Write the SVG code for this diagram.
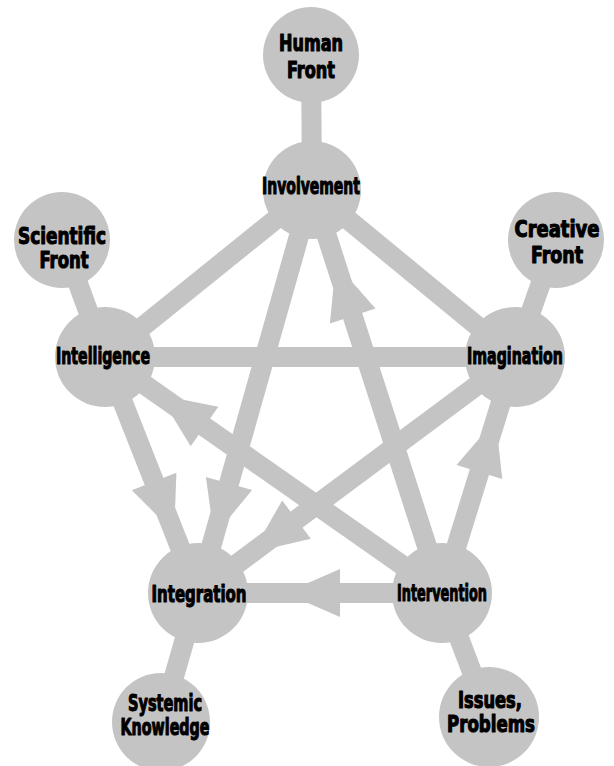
<svg xmlns="http://www.w3.org/2000/svg" width="614" height="766" viewBox="0 0 614 766">
<style>
.c{fill:#c4c4c4}
.l{stroke:#c4c4c4;stroke-width:20;fill:none}
.a{fill:#c4c4c4}
text{font-family:"DejaVu Sans Condensed","Liberation Sans Narrow","Liberation Sans",sans-serif;font-weight:bold;font-size:23px;fill:#000;stroke:#000;stroke-width:1.1;stroke-linejoin:round;text-anchor:middle}
</style>
<rect width="614" height="766" fill="#fff"/>
<g id="connectors">
<line class="l" x1="311" y1="55" x2="312" y2="190"/>
<line class="l" x1="62" y1="240" x2="105" y2="357"/>
<line class="l" x1="556" y1="240" x2="515" y2="357"/>
<line class="l" x1="161" y1="722" x2="198" y2="593"/>
<line class="l" x1="489" y1="717" x2="442" y2="593"/>
<line class="l" x1="312" y1="190" x2="105" y2="357"/>
<line class="l" x1="312" y1="190" x2="515" y2="357"/>
<line class="l" x1="105" y1="357" x2="515" y2="357"/>
<line class="l" x1="442" y1="593" x2="312" y2="190"/>
<polygon class="a" points="375.5,308.6 329.9,323.4 335.8,263.6"/>
<line class="l" x1="442" y1="593" x2="515" y2="357"/>
<polygon class="a" points="502.3,479.1 456.5,464.9 495.7,419.5"/>
<line class="l" x1="442" y1="593" x2="198" y2="593"/>
<polygon class="a" points="340,569 340,617 285,593"/>
<line class="l" x1="442" y1="593" x2="105" y2="357"/>
<polygon class="a" points="218.3,406.8 190.7,446.2 159.4,395"/>
<line class="l" x1="515" y1="357" x2="198" y2="593"/>
<polygon class="a" points="282.2,500.4 310.8,538.8 252.4,552.5"/>
<line class="l" x1="312" y1="190" x2="198" y2="593"/>
<polygon class="a" points="205.9,476.9 252.1,489.9 214.1,536.3"/>
<line class="l" x1="105" y1="357" x2="198" y2="593"/>
<polygon class="a" points="131.8,490.3 176.4,472.7 174.2,532.6"/>
</g>
<g id="human-front"><circle class="c" cx="311" cy="55" r="48"/><text x="311" y="51" textLength="64" lengthAdjust="spacingAndGlyphs">Human</text><text x="311" y="78" textLength="48" lengthAdjust="spacingAndGlyphs">Front</text></g>
<g id="involvement"><circle class="c" cx="312" cy="190" r="49"/><text x="311" y="194" textLength="98" lengthAdjust="spacingAndGlyphs">Involvement</text></g>
<g id="scientific-front"><circle class="c" cx="62" cy="240" r="48"/><text x="62" y="244" textLength="88" lengthAdjust="spacingAndGlyphs">Scientific</text><text x="64" y="268" textLength="49" lengthAdjust="spacingAndGlyphs">Front</text></g>
<g id="intelligence"><circle class="c" cx="105" cy="357" r="50"/><text x="103" y="364" textLength="94" lengthAdjust="spacingAndGlyphs">Intelligence</text></g>
<g id="creative-front"><circle class="c" cx="556" cy="240" r="48"/><text x="557" y="237" textLength="85" lengthAdjust="spacingAndGlyphs">Creative</text><text x="557" y="263" textLength="52" lengthAdjust="spacingAndGlyphs">Front</text></g>
<g id="imagination"><circle class="c" cx="515" cy="357" r="50"/><text x="515" y="364" textLength="96" lengthAdjust="spacingAndGlyphs">Imagination</text></g>
<g id="integration"><circle class="c" cx="198" cy="593" r="50"/><text x="199" y="602" textLength="95" lengthAdjust="spacingAndGlyphs">Integration</text></g>
<g id="intervention"><circle class="c" cx="442" cy="593" r="50"/><text x="442" y="601" textLength="90" lengthAdjust="spacingAndGlyphs">Intervention</text></g>
<g id="systemic-knowledge"><circle class="c" cx="161" cy="722" r="49"/><text x="165" y="711" textLength="74" lengthAdjust="spacingAndGlyphs">Systemic</text><text x="165" y="735" textLength="89" lengthAdjust="spacingAndGlyphs">Knowledge</text></g>
<g id="issues-problems"><circle class="c" cx="489" cy="717" r="50"/><text x="490" y="708" textLength="64" lengthAdjust="spacingAndGlyphs">Issues,</text><text x="491" y="732" textLength="88" lengthAdjust="spacingAndGlyphs">Problems</text></g>
</svg>
